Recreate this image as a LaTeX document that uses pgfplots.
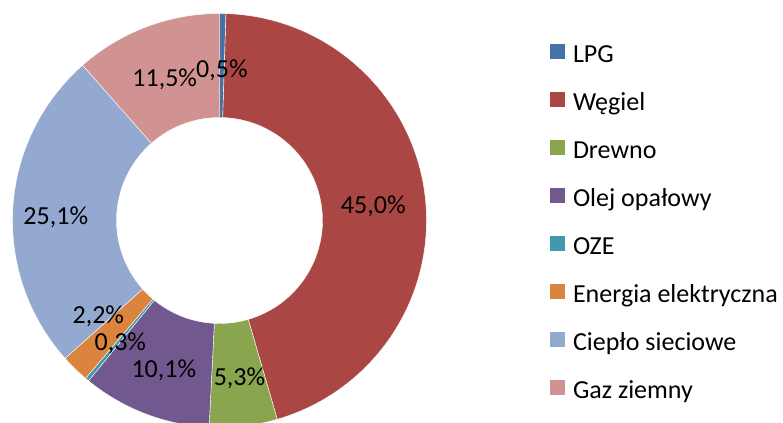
\documentclass[border=0pt]{standalone}
\usepackage{pgfplots}
\pgfplotsset{compat=1.18}
\usepackage{pgfplotstable}
\usepackage{fontspec}
\setmainfont{Carlito}

% slice colours (Excel style)
\definecolor{s0}{HTML}{4572A7}
\definecolor{s1}{HTML}{AA4643}
\definecolor{s2}{HTML}{89A54E}
\definecolor{s3}{HTML}{71588F}
\definecolor{s4}{HTML}{4198AF}
\definecolor{s5}{HTML}{DB843D}
\definecolor{s6}{HTML}{93A9CF}
\definecolor{s7}{HTML}{D19392}

% share in %, label offset (dx, dy) in px
\pgfplotstableread[col sep=comma]{
name,value,dx,dy
LPG,0.5,0,-5
Węgiel,45.0,0,-5
Drewno,5.3,2,-4
Olej opałowy,10.1,0,-5
OZE,0.3,0,-4
Energia elektryczna,2.2,-13,15
Ciepło sieciowe,25.1,-9,-6
Gaz ziemny,11.5,0,-4
}\energy

\pgfkeys{/pgf/number format/assume math mode=true}

\begin{document}
\begin{tikzpicture}
\fontsize{26bp}{30bp}\selectfont
% cumulative angles, clockwise from the top
\xdef\cum{0}
\foreach \i in {0,...,7}{
  \pgfplotstablegetelem{\i}{value}\of\energy
  \expandafter\xdef\csname val\i\endcsname{\pgfplotsretval}
  \pgfmathsetmacro\a{90-3.6*\cum}
  \pgfmathsetmacro\newcum{\cum+\pgfplotsretval}
  \pgfmathsetmacro\b{90-3.6*\newcum}
  \pgfmathsetmacro\m{(\a+\b)/2}
  \expandafter\xdef\csname sa\i\endcsname{\a}
  \expandafter\xdef\csname ea\i\endcsname{\b}
  \expandafter\xdef\csname ma\i\endcsname{\m}
  \xdef\cum{\newcum}
  \pgfplotstablegetelem{\i}{name}\of\energy
  \expandafter\xdef\csname nm\i\endcsname{\pgfplotsretval}
  \pgfplotstablegetelem{\i}{dx}\of\energy
  \expandafter\xdef\csname dx\i\endcsname{\pgfplotsretval}
  \pgfplotstablegetelem{\i}{dy}\of\energy
  \expandafter\xdef\csname dy\i\endcsname{\pgfplotsretval}
}
\begin{axis}[
    at={(0,0)}, anchor=origin,
    x=1bp, y=1bp,
    xmin=0, xmax=783,
    ymin=0, ymax=423,
    hide axis,
    clip=false,
    font=\fontsize{26bp}{30bp}\selectfont,
    legend cell align=left,
    legend image code/.code={\fill[#1, draw=none] (0bp,-1bp) rectangle (15bp,14bp);},
    legend style={
        at={(axis cs:550,379)}, anchor=north west,
        draw=none, fill=none, inner sep=0pt, outer sep=0pt,
        row sep=23.5bp, column sep=8bp,
        nodes={inner sep=0pt, text height=15bp, text depth=6bp},
    },
]
\pgfplotsinvokeforeach{0,...,7}{
  \addlegendimage{fill=s#1}
  \addlegendentry{\csname nm#1\endcsname}
}
% ring sectors, centre (219.5, 202.5), radii 207 and 103
\pgfplotsinvokeforeach{0,...,7}{
  \fill[s#1, draw=white, line width=0.4bp]
    (axis cs:{219.5+207*cos(\csname sa#1\endcsname)},{202.5+207*sin(\csname sa#1\endcsname)})
    arc[start angle=\csname sa#1\endcsname, end angle=\csname ea#1\endcsname, radius=207bp]
    -- (axis cs:{219.5+103*cos(\csname ea#1\endcsname)},{202.5+103*sin(\csname ea#1\endcsname)})
    arc[start angle=\csname ea#1\endcsname, end angle=\csname sa#1\endcsname, radius=103bp]
    -- cycle;
}
\pgfplotsinvokeforeach{0,...,7}{
  \node[inner sep=0pt] at (axis cs:{219.5+155*cos(\csname ma#1\endcsname)+\csname dx#1\endcsname},{202.5+155*sin(\csname ma#1\endcsname)+\csname dy#1\endcsname})
    {\pgfmathprintnumber[fixed,fixed zerofill,precision=1,use comma]{\csname val#1\endcsname}\%};
}
\end{axis}
\pgfresetboundingbox
\path[use as bounding box] (0,0) rectangle (783bp,423bp);
\end{tikzpicture}
\end{document}
